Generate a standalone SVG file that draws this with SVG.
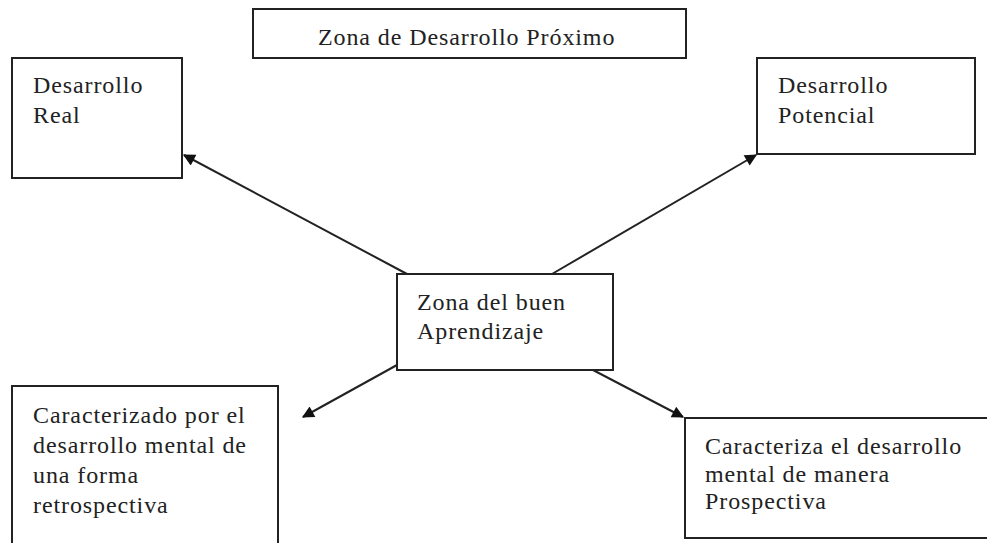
<svg xmlns="http://www.w3.org/2000/svg" width="987" height="543" viewBox="0 0 987 543">
<defs>
<style>
.box{fill:#fff;stroke:#222;stroke-width:2}
.t{font-family:"Liberation Serif","Times New Roman",serif;font-size:24px;letter-spacing:0.9px;fill:#222}
.c{stroke:#222;stroke-width:2;fill:none}
</style>
<marker id="ah" viewBox="0 0 10 10" refX="9" refY="5" markerWidth="14" markerHeight="12" markerUnits="userSpaceOnUse" orient="auto">
<path d="M0,0 L10,5 L0,10 z" fill="#111"/>
</marker>
</defs>
<rect width="987" height="543" fill="#fff"/>
<g id="connectors">
<line class="c" x1="407" y1="274" x2="184" y2="155" marker-end="url(#ah)"/>
<line class="c" x1="552" y1="274" x2="756" y2="155" marker-end="url(#ah)"/>
<line class="c" x1="397" y1="365" x2="303" y2="417" marker-end="url(#ah)"/>
<line class="c" x1="593" y1="370" x2="683" y2="417" marker-end="url(#ah)"/>
</g>
<g id="title">
<rect class="box" x="253" y="9" width="433" height="49"/>
<text class="t" x="318" y="45">Zona de Desarrollo  Próximo</text>
</g>
<g id="real">
<rect class="box" x="12" y="58" width="170" height="120"/>
<text class="t" x="33" y="93">Desarrollo</text>
<text class="t" x="33" y="123">Real</text>
</g>
<g id="potencial">
<rect class="box" x="757" y="58" width="218" height="96"/>
<text class="t" x="778" y="93">Desarrollo</text>
<text class="t" x="778" y="123">Potencial</text>
</g>
<g id="centro">
<rect class="box" x="397" y="274" width="216" height="96"/>
<text class="t" x="417" y="310">Zona del buen</text>
<text class="t" x="417" y="339">Aprendizaje</text>
</g>
<g id="retro">
<rect class="box" x="12" y="386" width="266" height="170"/>
<text class="t" x="33" y="423">Caracterizado por el</text>
<text class="t" x="33" y="453">desarrollo mental de</text>
<text class="t" x="33" y="483">una forma</text>
<text class="t" x="33" y="513">retrospectiva</text>
</g>
<g id="prospectiva">
<rect class="box" x="685" y="418" width="320" height="120"/>
<text class="t" x="705" y="454">Caracteriza el desarrollo</text>
<text class="t" x="705" y="482">mental de manera</text>
<text class="t" x="705" y="509">Prospectiva</text>
</g>
</svg>
